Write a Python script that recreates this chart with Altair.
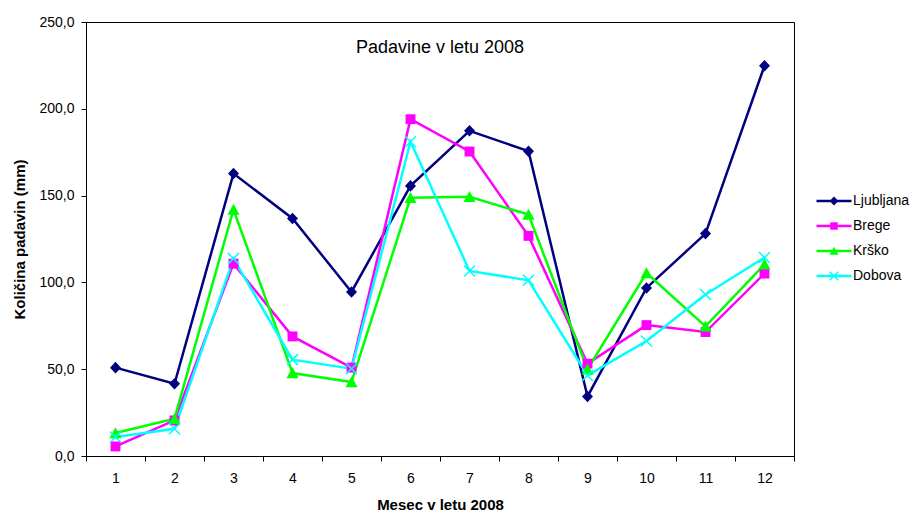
import altair as alt
import pandas as pd

# Monthly precipitation (mm) in 2008 for four stations
months = list(range(1, 13))
stations = ["Ljubljana", "Brege", "Krško", "Dobova"]
ljubljana = [50.9, 41.6, 162.7, 136.8, 94.5, 155.6, 187.3, 175.6, 34.3, 96.8, 128.1, 224.8]
brege = [5.5, 20.5, 110.8, 68.9, 50.9, 194.0, 175.4, 126.8, 53.2, 75.4, 71.4, 105.1]
krsko = [13.2, 21.5, 142.0, 47.8, 42.6, 148.7, 149.3, 139.1, 50.0, 105.4, 74.7, 110.4]
dobova = [10.9, 15.7, 113.7, 55.5, 50.3, 181.0, 106.6, 101.2, 46.4, 66.2, 93.0, 114.3]
colors = ["#000080", "#FF00FF", "#00FF00", "#00FFFF"]

rows = []
for name, vals in zip(stations, [ljubljana, brege, krsko, dobova]):
    for m, v in zip(months, vals):
        rows.append({"mesec": m, "postaja": name, "padavine": v})
df = pd.DataFrame(rows)


def x_path(a, d):
    """A filled 'x' built from two thin bars with the same winding."""
    r1 = [(-a + d, -a - d), (a + d, a - d), (a - d, a + d), (-a - d, -a + d)]
    r2 = [(-a + d, a + d), (-a - d, a - d), (a - d, -a - d), (a + d, -a + d)]
    def poly(pts):
        return "M" + "L".join(f"{x:.3f},{y:.3f}" for x, y in pts) + "Z"
    return poly(r1) + poly(r2)


# Marker shapes on the chart
marker_shapes = [
    "M0,-1.05L1,0L0,1.05L-1,0Z",
    "M-0.9,-0.9H0.9V0.9H-0.9Z",
    "M0,-1.05L1.1,0.95H-1.1Z",
    x_path(1.0, 0.096),
]

# Legend symbols: a short line segment with the marker in its middle
seg = "M-3.5,-0.25H3.5V0.25H-3.5Z"
legend_shapes = [
    seg + "M0,-0.9L0.9,0L0,0.9L-0.9,0Z",
    seg + "M-0.75,-0.75H0.75V0.75H-0.75Z",
    seg + "M0,-0.85L0.9,0.75H-0.9Z",
    seg + x_path(0.85, 0.106),
]

FONT = "Liberation Sans"

x_enc = alt.X(
    "mesec:O",
    bandPosition=0.5,
    scale=alt.Scale(type="band", paddingInner=0, paddingOuter=0),
    axis=alt.Axis(
        title="Mesec v letu 2008",
        labelAngle=0,
        grid=False,
        tickBand="extent",
        tickSize=5,
        labelPadding=10,
        titlePadding=12,
    ),
)
y_enc = alt.Y(
    "padavine:Q",
    scale=alt.Scale(domain=[0, 250], nice=False),
    axis=alt.Axis(
        title="Količina padavin (mm)",
        grid=False,
        values=[0, 50, 100, 150, 200, 250],
        labelExpr="replace(format(datum.value, '.1f'), '.', ',')",
        tickSize=5,
        labelPadding=7,
        titlePadding=11,
    ),
)
color_scale = alt.Scale(domain=stations, range=colors)

base = alt.Chart(df)

lines = base.mark_line(strokeWidth=2.5).encode(
    x=x_enc,
    y=y_enc,
    color=alt.Color("postaja:N", scale=color_scale, legend=None),
)

points = base.mark_point(filled=True, opacity=1, size=121).encode(
    x=x_enc,
    y=y_enc,
    color=alt.Color("postaja:N", scale=color_scale, legend=None),
    shape=alt.Shape("postaja:N", scale=alt.Scale(domain=stations, range=marker_shapes), legend=None),
)

legend_props = dict(
    title=None,
    orient="none",
    legendX=741,
    legendY=172,
    padding=0,
    rowPadding=11,
    labelOffset=12,
    labelFontSize=14,
    labelFont=FONT,
    labelColor="black",
    symbolSize=100,
    symbolStrokeWidth=0,
)

legend_layer = base.transform_filter("false").mark_point(filled=True, opacity=1, size=100).encode(
    x=x_enc,
    y=y_enc,
    color=alt.Color("postaja:N", scale=color_scale, legend=alt.Legend(**legend_props)),
    shape=alt.Shape(
        "postaja:N",
        scale=alt.Scale(domain=stations, range=legend_shapes),
        legend=alt.Legend(**legend_props),
    ),
)

chart = (
    alt.layer(lines, points, legend_layer)
    .resolve_scale(color="independent", shape="independent")
    .properties(
        width=708,
        height=434,
        background="white",
        autosize=alt.AutoSizeParams(type="none"),
        padding={"left": 86, "top": 22, "right": 120, "bottom": 56},
        title=alt.TitleParams(
            "Padavine v letu 2008",
            font=FONT,
            fontSize=18,
            fontWeight="normal",
            color="black",
            anchor="middle",
            frame="group",
            offset=-42,
        ),
    )
    .configure_view(stroke="black", strokeWidth=1)
    .configure_axis(
        grid=False,
        domainColor="black",
        tickColor="black",
        labelColor="black",
        titleColor="black",
        labelFont=FONT,
        labelFontSize=14,
        titleFont=FONT,
        titleFontSize=15,
        titleFontWeight="bold",
    )
)

chart.save("out.html", embed_options={"renderer": "svg", "actions": False})
